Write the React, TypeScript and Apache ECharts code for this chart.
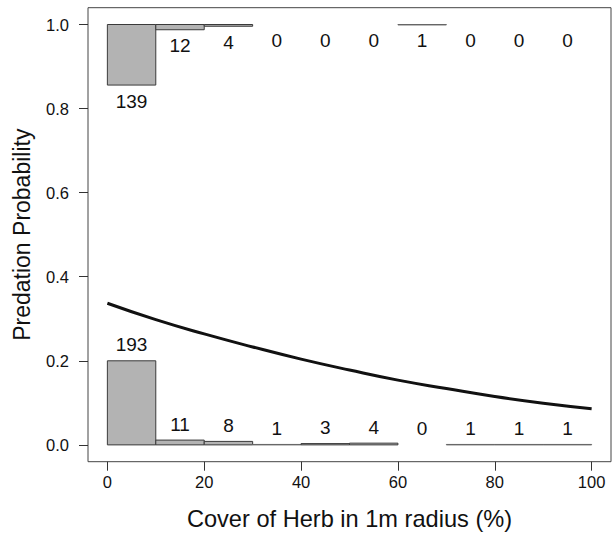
import React, { useEffect, useRef } from "react";
import * as echarts from "echarts";

// Bin edges (% cover of herb)
const binStarts = [0, 10, 20, 30, 40, 50, 60, 70, 80, 90];
const binWidth = 10;
// Counts of non-predated (bottom, y = 0) and predated (top, y = 1) observations
const bottomCounts = [193, 11, 8, 1, 3, 4, 0, 1, 1, 1];
const topCounts = [139, 12, 4, 0, 0, 0, 1, 0, 0, 0];
// Histogram scaling: tallest bar (193) drawn as 0.2 probability units
const maxBarHeight = 0.2;
const maxCount = 193;

// Fitted logistic curve
const curveX = [0, 10, 20, 30, 40, 50, 60, 70, 80, 90, 100];
const curveY = [0.337, 0.298, 0.264, 0.233, 0.204, 0.178, 0.154, 0.134, 0.115, 0.099, 0.086];

const xTicks = [0, 20, 40, 60, 80, 100];
const yTicks = [0.0, 0.2, 0.4, 0.6, 0.8, 1.0];

const FONT = "Liberation Sans, Arial, sans-serif";

export default function App() {
  const ref = useRef<HTMLDivElement>(null);

  useEffect(() => {
    if (!ref.current) return;
    const chart = echarts.init(ref.current, undefined, { renderer: "svg" });

    const histData: any[] = [];
    binStarts.forEach((s, i) => {
      histData.push([s, s + binWidth, (bottomCounts[i] / maxCount) * maxBarHeight, 0, bottomCounts[i]]);
      histData.push([s, s + binWidth, (topCounts[i] / maxCount) * maxBarHeight, 1, topCounts[i]]);
    });

    const option: any = {
      animation: false,
      backgroundColor: "#ffffff",
      grid: {
        left: 88,
        top: 7.7,
        width: 523,
        height: 454,
        show: true,
        borderColor: "#444",
        borderWidth: 1,
        backgroundColor: "transparent",
      },
      xAxis: {
        type: "value",
        min: -4,
        max: 104,
        splitLine: { show: false },
        axisLine: { show: false, onZero: false },
        axisTick: {
          show: true,
          inside: false,
          length: 9,
          lineStyle: { color: "#333", width: 1 },
          customValues: xTicks,
        },
        axisLabel: {
          show: true,
          margin: 12,
          fontSize: 16.5,
          fontFamily: FONT,
          color: "#111",
          customValues: xTicks,
          formatter: (v: number) => String(v),
        },
        name: "Cover of Herb in 1m radius (%)",
        nameLocation: "middle",
        nameGap: 45,
        nameTextStyle: { fontSize: 23.6, fontFamily: FONT, color: "#111" },
      },
      yAxis: {
        type: "value",
        min: -0.04,
        max: 1.04,
        splitLine: { show: false },
        axisLine: { show: false, onZero: false },
        axisTick: {
          show: true,
          inside: false,
          length: 9,
          lineStyle: { color: "#333", width: 1 },
          customValues: yTicks,
        },
        axisLabel: {
          show: true,
          margin: 19,
          fontSize: 16.5,
          fontFamily: FONT,
          color: "#111",
          customValues: yTicks,
          formatter: (v: number) => v.toFixed(1),
        },
        name: "Predation Probability",
        nameLocation: "middle",
        nameGap: 55,
        nameTextStyle: { fontSize: 23, fontFamily: FONT, color: "#111" },
      },
      series: [
        {
          type: "custom",
          data: histData,
          encode: { x: [0, 1], y: 2 },
          silent: true,
          renderItem: (params: any, api: any) => {
            const x0 = api.value(0);
            const x1 = api.value(1);
            const h = api.value(2);
            const side = api.value(3);
            const count = api.value(4);
            const base = side === 0 ? 0 : 1;
            const end = side === 0 ? h : 1 - h;
            const p0 = api.coord([x0, base]);
            const p1 = api.coord([x1, end]);
            const children: any[] = [];
            if (count > 0) {
              children.push({
                type: "rect",
                shape: {
                  x: p0[0],
                  y: Math.min(p0[1], p1[1]),
                  width: p1[0] - p0[0],
                  height: Math.abs(p1[1] - p0[1]),
                },
                style: { fill: "#b3b3b3", stroke: count === 1 ? "#666" : "#3a3a3a", lineWidth: 1 },
              });
            }
            const cx = (p0[0] + p1[0]) / 2;
            const ly = side === 0 ? p1[1] - 16 : p1[1] + 16;
            children.push({
              type: "text",
              style: {
                text: String(count),
                x: cx,
                y: ly,
                align: "center",
                verticalAlign: "middle",
                fontSize: 19,
                fontFamily: FONT,
                fill: "#111",
              },
            });
            return { type: "group", children };
          },
          z: 2,
        },
        {
          type: "line",
          data: curveX.map((x, i) => [x, curveY[i]]),
          smooth: true,
          showSymbol: false,
          symbol: "none",
          lineStyle: { color: "#111", width: 3 },
          z: 3,
        },
      ],
    };

    chart.setOption(option);
    return () => chart.dispose();
  }, []);

  return (
    <div
      ref={ref}
      style={{ position: "absolute", left: 0, top: 0, width: 613, height: 541 }}
    />
  );
}
